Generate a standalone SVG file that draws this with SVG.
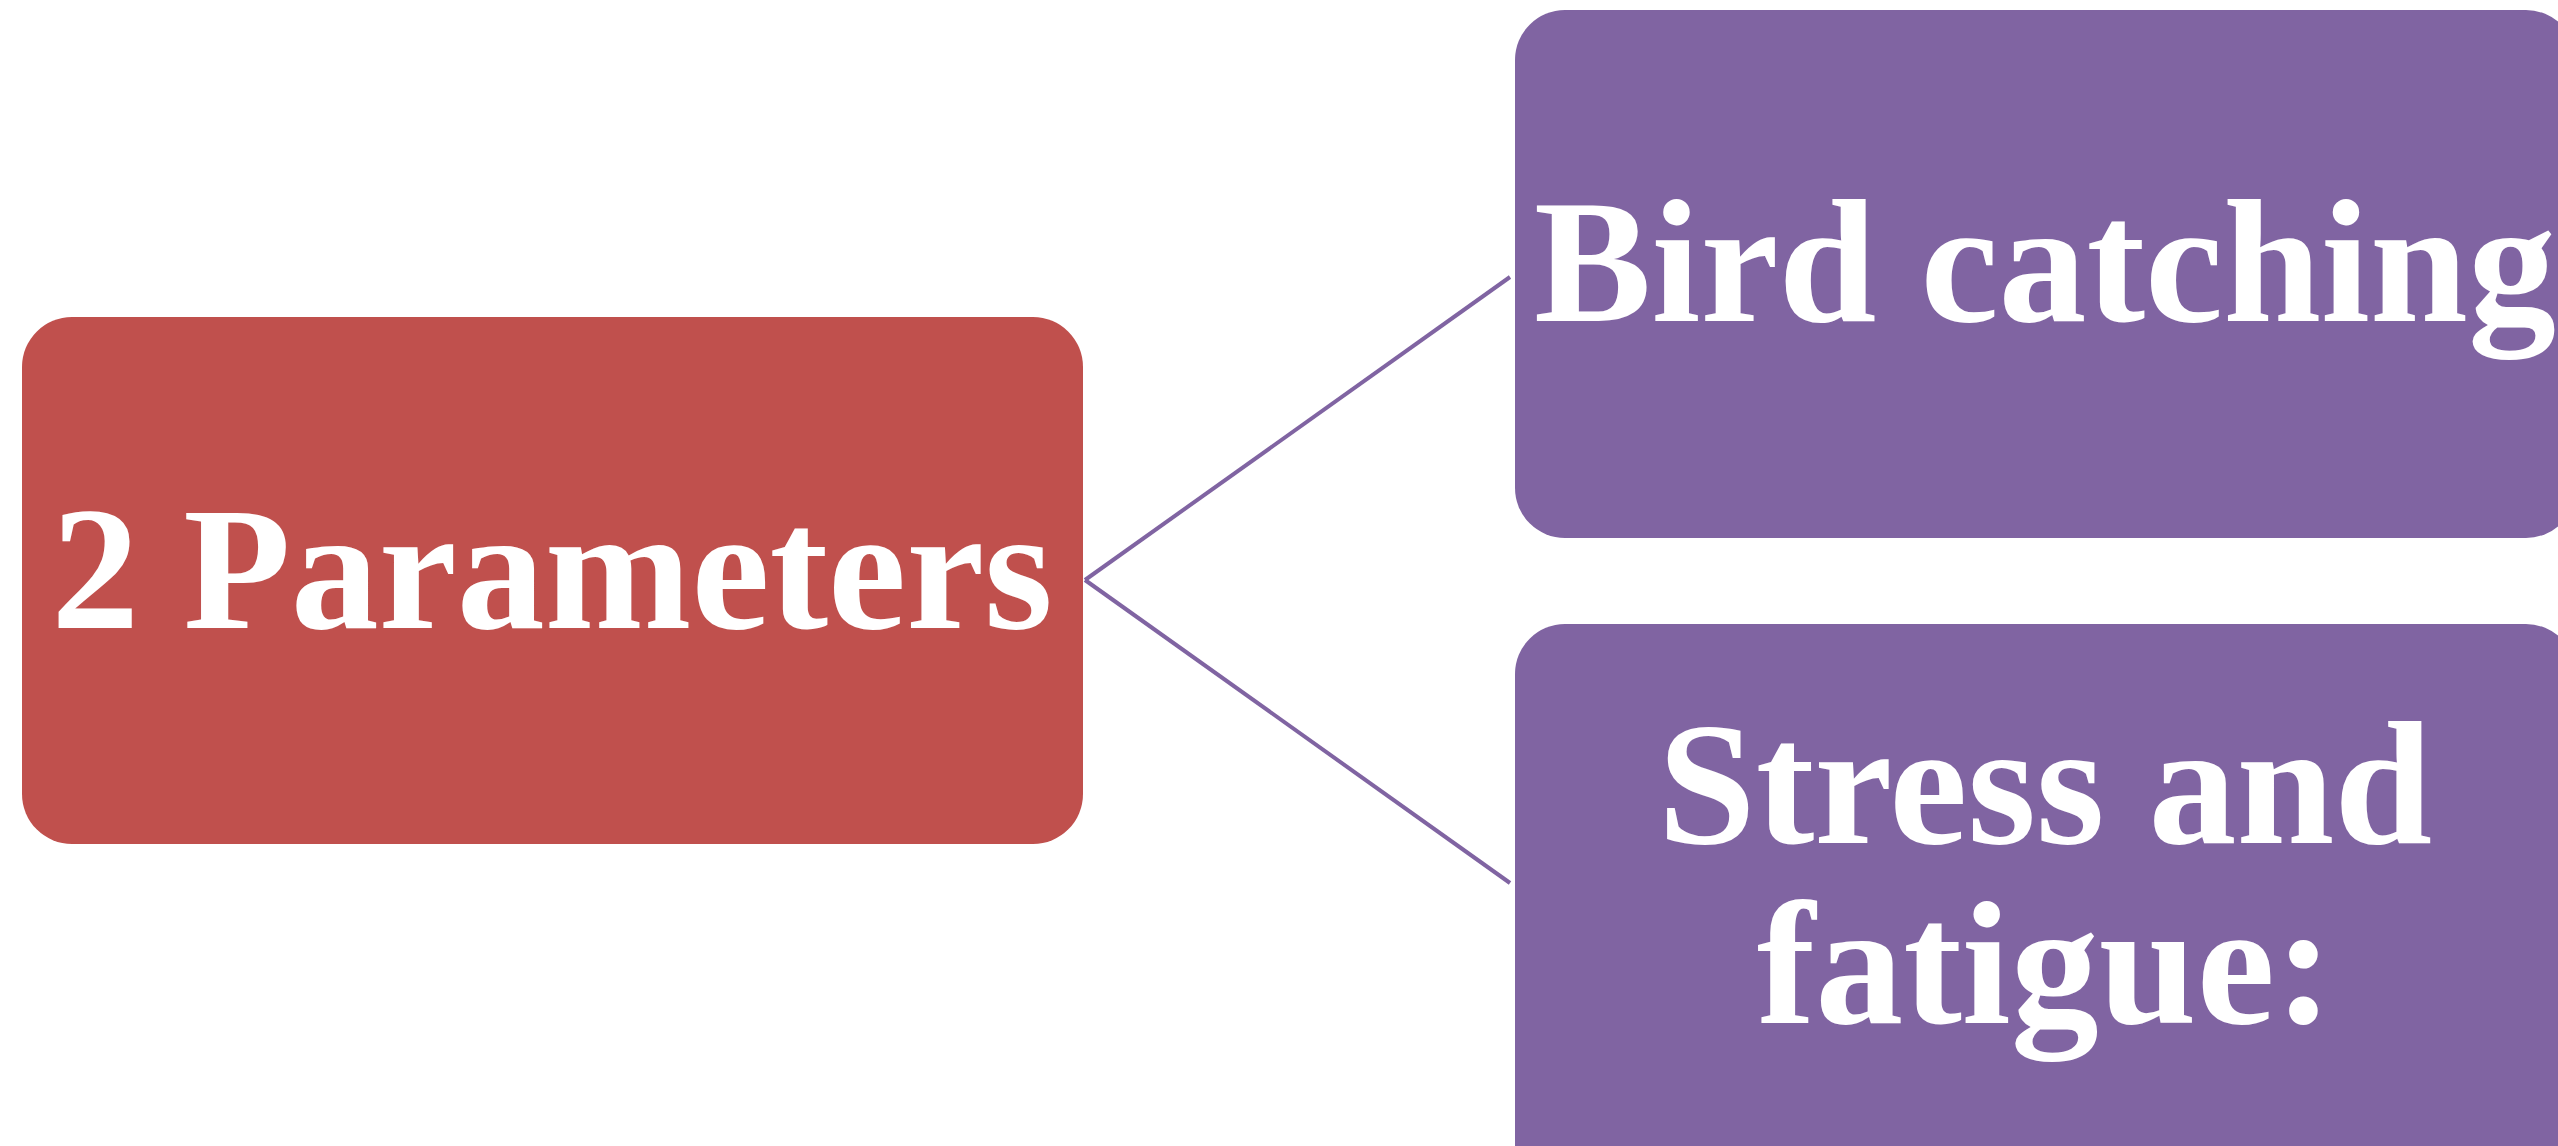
<svg xmlns="http://www.w3.org/2000/svg" width="2558" height="1146" viewBox="0 0 2558 1146">
  <style>
    .root { fill: #C0504D; }
    .leaf { fill: #8064A2; }
    .label { fill: #FFFFFF; font-family: "Liberation Serif", "DejaVu Serif", serif; font-weight: bold; font-size: 176px; text-anchor: middle; }
    .link { stroke: #8064A2; stroke-width: 4; fill: none; }
  </style>
  <rect width="2558" height="1146" fill="#FFFFFF"/>

  <g id="connectors">
    <line class="link" x1="1085" y1="580" x2="1510" y2="277"/>
    <line class="link" x1="1085" y1="580" x2="1510" y2="883"/>
  </g>

  <g id="node-parameters">
    <rect class="root" x="22" y="317" width="1061" height="527" rx="50" ry="50"/>
    <text class="label" x="552" y="628">2 Parameters</text>
  </g>

  <g id="node-bird-catching">
    <rect class="leaf" x="1515" y="10" width="1061" height="528" rx="50" ry="50"/>
    <text class="label" x="2045" y="321">Bird catching</text>
  </g>

  <g id="node-stress-fatigue">
    <rect class="leaf" x="1515" y="624" width="1061" height="572" rx="50" ry="50"/>
    <text class="label" x="2045" y="843">Stress and</text>
    <text class="label" x="2045" y="1023">fatigue:</text>
  </g>
</svg>
